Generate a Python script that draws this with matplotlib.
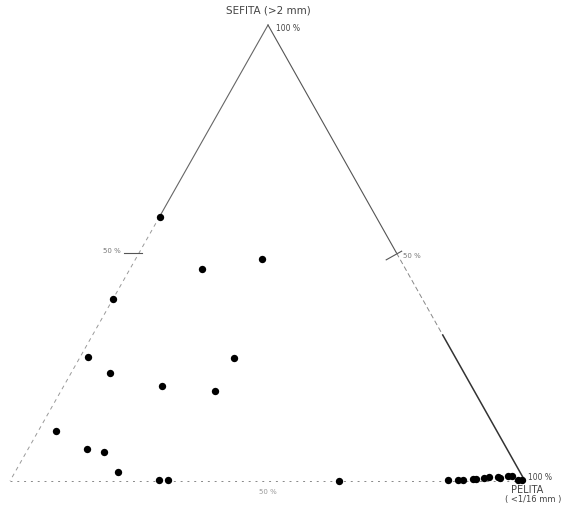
import matplotlib
matplotlib.use("Agg")
import matplotlib.pyplot as plt
import numpy as np

# Ternary data (percent): pelita (P), sefita (S); remainder = third component
pelita = [0, 24.5, 14, 0, 1.5, 30, 7.5, 19, 30, 3.5, 11.5, 15, 20,
          28.7, 30.5, 63.9, 85, 86.8, 87.8, 89.7, 90.3, 91.8, 92.6, 94.4, 94.9, 96.2, 97.0, 98.4, 99.2]
sefita = [58, 48.7, 46.4, 40, 27.1, 27, 23.6, 20.9, 19.7, 11, 7, 6.3, 2,
          0.3, 0.3, 0, 0.2, 0.3, 0.3, 0.5, 0.5, 0.6, 0.8, 0.9, 0.6, 1.1, 1.1, 0.3, 0.3]

apex_x = 0.501  # horizontal position of SEFITA apex (fraction of base)

def to_xy(p, s):
    p = np.asarray(p) / 100.0
    s = np.asarray(s) / 100.0
    return p + apex_x * s, s

fig = plt.figure(figsize=(5.64, 5.13), dpi=100)
ax = fig.add_axes([0, 0, 1, 1])
ax.set_xlim(-10 / 515, 554 / 515)
ax.set_ylim(-(513 - 481) / 456, 1 + 25 / 456)
ax.axis("off")

A = np.array([0.0, 0.0])
P = np.array([1.0, 0.0])
S = np.array([apex_x, 1.0])

def seg(p0, p1, t0, t1, **kw):
    a = p0 + (p1 - p0) * t0
    b = p0 + (p1 - p0) * t1
    ax.plot([a[0], b[0]], [a[1], b[1]], **kw)

# sides
seg(S, A, 0, 0.42, color="#666666", lw=0.8)
seg(S, A, 0.42, 1.0, color="#999999", lw=0.7, dashes=(4, 4))
seg(S, P, 0, 0.5, color="#555555", lw=0.8)
seg(S, P, 0.5, 0.68, color="#888888", lw=0.7, dashes=(5, 3))
seg(S, P, 0.68, 1.0, color="#333333", lw=1.1)
seg(A, P, 0, 1.0, color="#888888", lw=0.7, dashes=(2, 5))

# 50% ticks
mL = (S + A) / 2
ax.plot([mL[0] - 0.03, mL[0] + 0.005], [mL[1], mL[1]], color="#555555", lw=0.8)
mR = (S + P) / 2
ax.plot([mR[0] - 0.02, mR[0] + 0.01], [mR[1] - 0.015, mR[1] + 0.004], color="#555555", lw=0.8)

x, y = to_xy(pelita, sefita)
ax.scatter(x, y, s=28, color="black", zorder=3, linewidths=0)

tc = "#444444"
ax.text(S[0], S[1] + 0.02, "SEFITA (>2 mm)", ha="center", va="bottom", fontsize=7.5, color=tc)
ax.text(S[0] + 0.016, S[1] - 0.008, "100 %", ha="left", va="center", fontsize=5.5, color=tc)
ax.text(P[0] + 0.006, P[1] + 0.008, "100 %", ha="left", va="center", fontsize=5.5, color=tc)
ax.text(P[0] + 0.005, P[1] - 0.02, "PELITA", ha="center", va="center", fontsize=7, color=tc)
ax.text(P[0] + 0.016, P[1] - 0.04, "( <1/16 mm )", ha="center", va="center", fontsize=6, color=tc)
ax.text(mL[0] - 0.035, mL[1] + 0.004, "50 %", ha="right", va="center", fontsize=5, color="#777777")
ax.text(mR[0] + 0.012, mR[1] - 0.006, "50 %", ha="left", va="center", fontsize=5, color="#777777")
ax.text(0.5, -0.025, "50 %", ha="center", va="center", fontsize=5, color="#999999")

fig.savefig("out.png", dpi=100, facecolor="white")
